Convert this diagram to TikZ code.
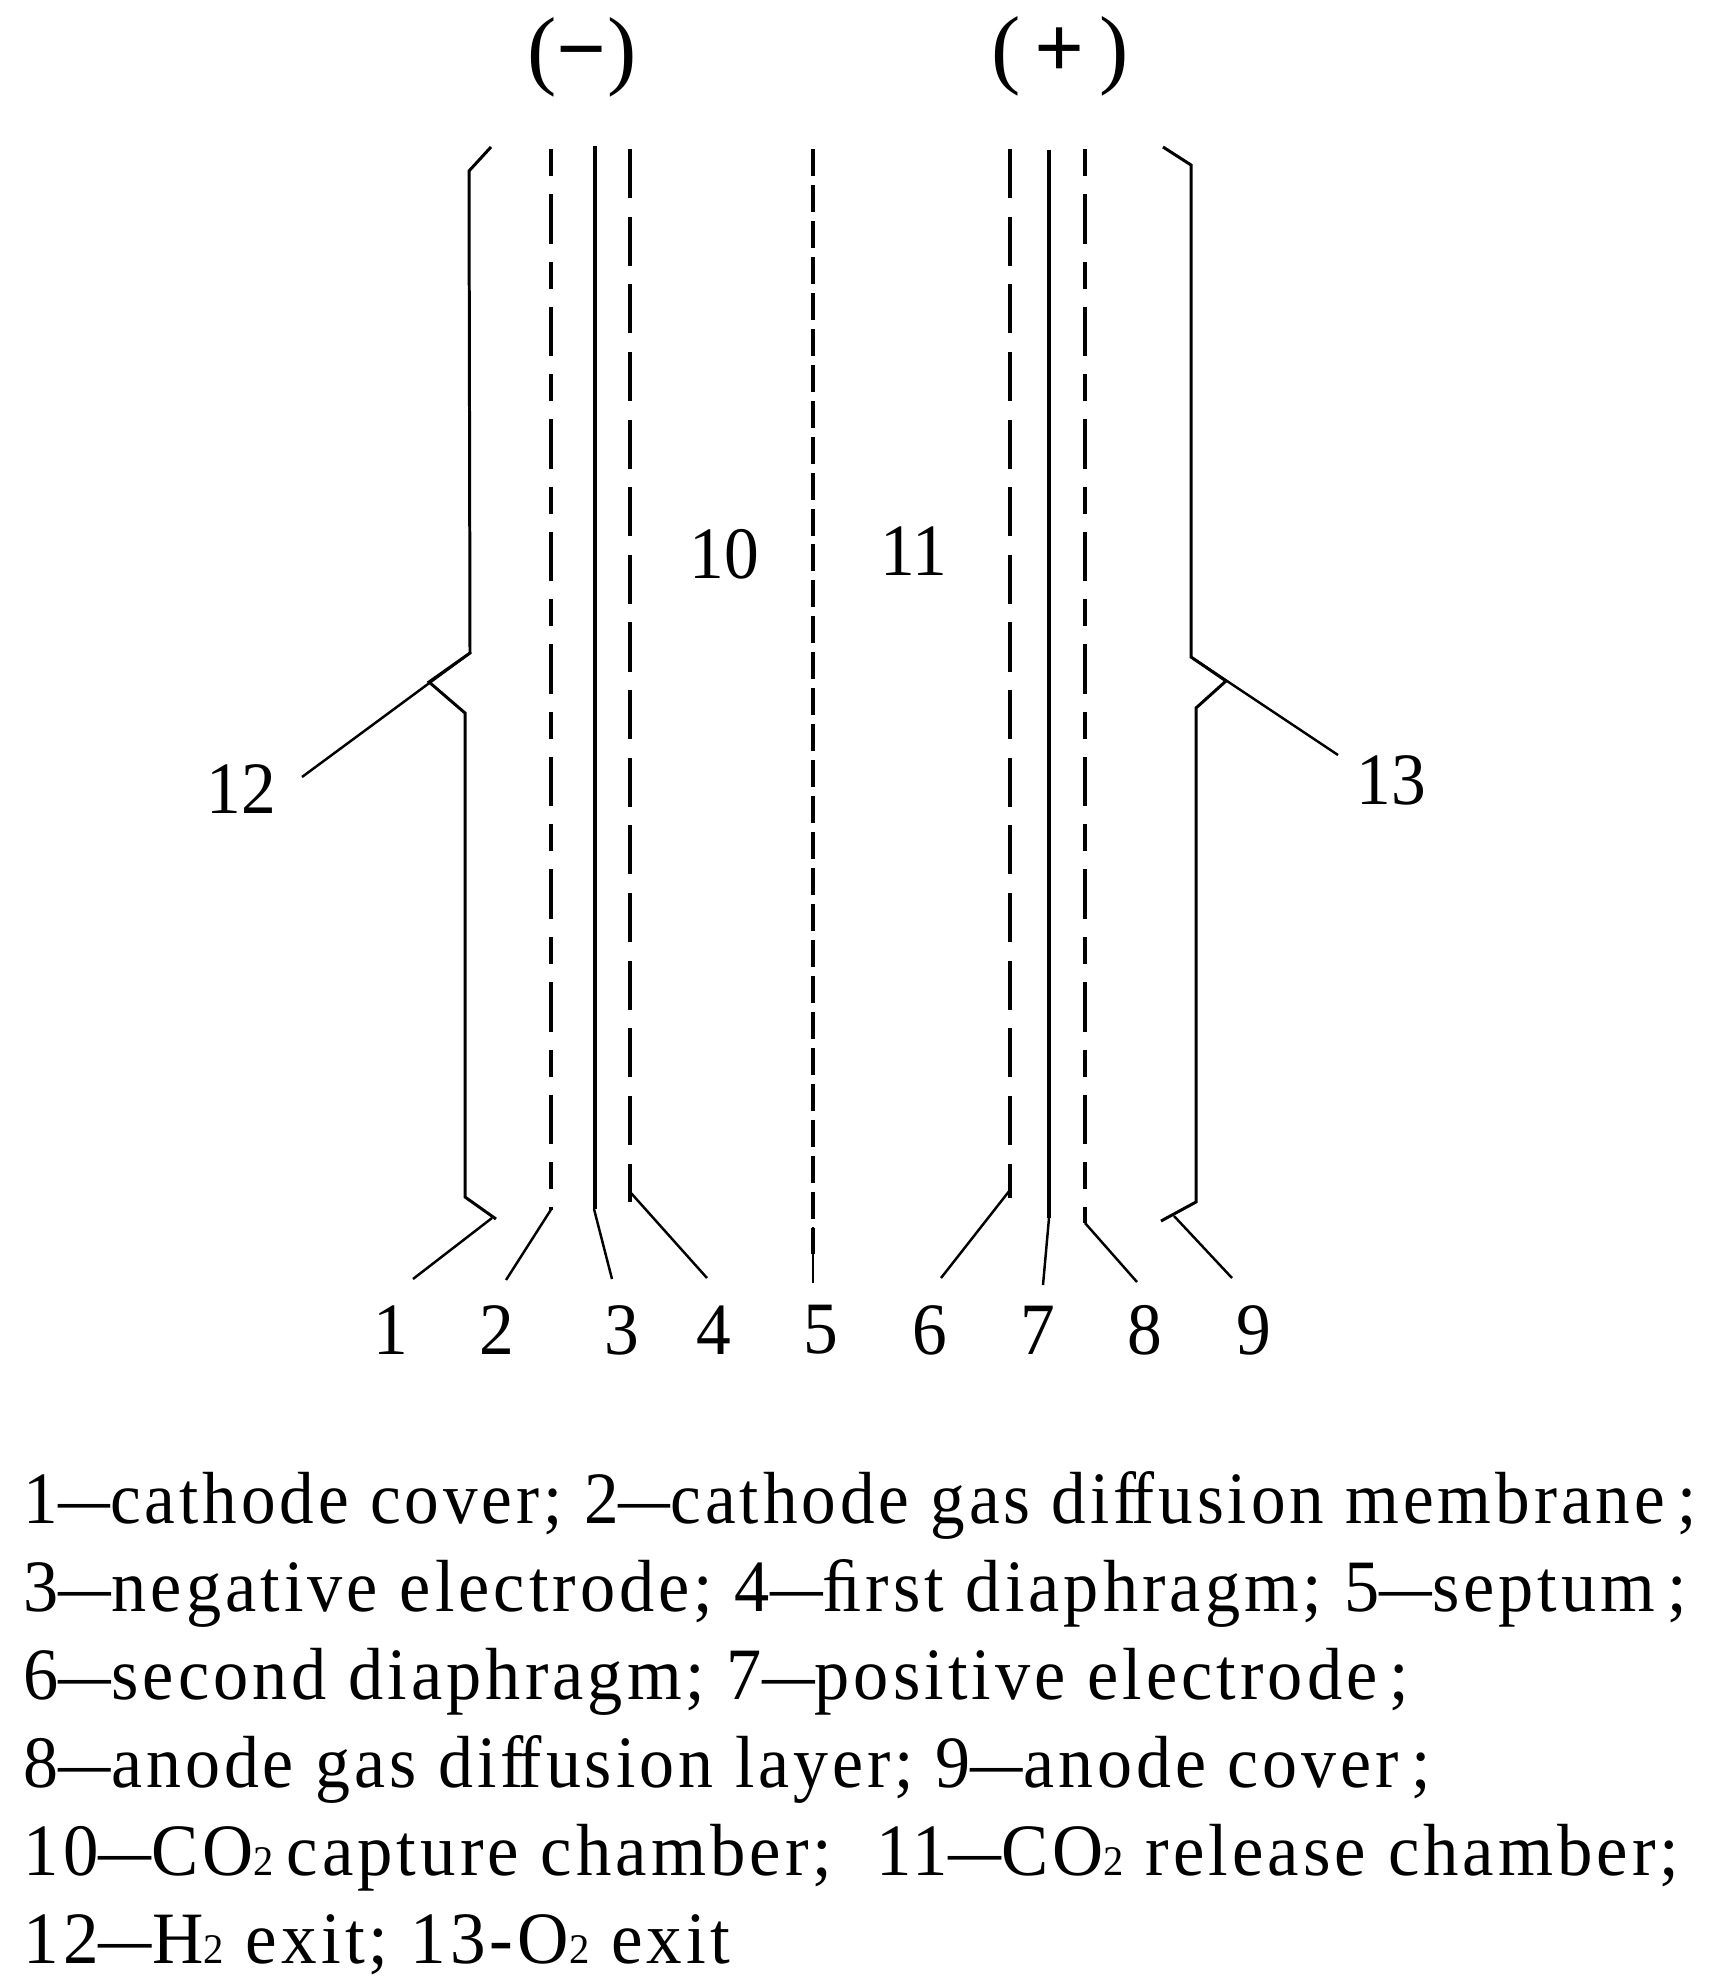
\documentclass[tikz,border=0pt]{standalone}
\usepackage{fontspec}
\setmainfont{Liberation Serif}
\usetikzlibrary{calc}
\newfontfamily\labfont[FakeStretch=0.94]{Liberation Serif}
\newfontfamily\keyfont[FakeStretch=0.94,LetterSpace=5.4]{Liberation Serif}
\newcommand{\lowtwo}{{\fontsize{12}{12}\selectfont 2}}
\newcommand{\kdash}{\scalebox{0.75}[1]{—}}
\newcommand{\tightff}{f\kern-0.07em f}
\tikzset{
    wall/.style={line width=0.85pt, line join=miter},
    plate/.style={line width=1.1pt},
    lead/.style={line width=0.7pt},
    dashlong/.style={line width=1.1pt, dash pattern=on 0.49cm off 0.186cm},
    dashmix/.style={line width=1.1pt, dash pattern=on 0.27cm off 0.18cm on 0.495cm off 0.18cm},
    dashsep/.style={line width=1.1pt, dash pattern=on 0.27cm off 0.0893cm},
    lab/.style={font=\labfont\fontsize{21}{21}\selectfont, inner sep=0pt},
    sign/.style={font=\fontsize{25}{25}\selectfont, inner sep=0pt},
    keyline/.style={font=\keyfont\fontsize{21}{21}\selectfont, anchor=base west, inner sep=0pt}
}
\begin{document}
\begin{tikzpicture}[x=0.01cm, y=-0.01cm]
\useasboundingbox (0,0) rectangle (1731,1982);
% polarity
\node[sign] (minus) at (582,57) {(\textbf{\textminus})};
\node[sign] (plus) at (1060,56) {(\,\textbf{+}\,)};
% cover on the cathode side
\draw[wall] (491,147) -- (469,171) -- (470,653) -- (429,682) -- (465,713) -- (465,1197) -- (496,1219);
% cover on the anode side
\draw[wall] (1163,147) -- (1191,165) -- (1191,657) -- (1226,681) -- (1196,708) -- (1196,1202) -- (1161,1221);
% layers
\draw[dashmix] (551,149) -- (551,1210);
\draw[plate] (595,146) -- (595,1209);
\draw[dashlong] (630,149) -- (630,1202);
\draw[dashsep] (813,149) -- (813,1254);
\draw[dashlong] (1010,149) -- (1010,1198);
\draw[plate] (1049,150) -- (1049,1218);
\draw[dashmix] (1085,149) -- (1085,1223);
% leaders
\foreach \i/\xa/\ya/\xb/\yb in {
    1/492/1218/413/1279, 2/552/1208/506/1280, 3/594/1209/612/1279,
    4/631/1193/707/1278, 5/813/1227/813/1283, 6/1010/1190/941/1278,
    7/1049/1218/1043/1285, 8/1085/1223/1137/1282, 9/1174/1216/1232/1278,
    12/470/653/302/777, 13/1191/657/1338/755} {
    \coordinate (top\i) at (\xa,\ya);
    \coordinate (end\i) at (\xb,\yb);
    \draw[lead] (top\i) -- (end\i);
}
% labels
\foreach \i/\x in {1/391,2/497,3/622,4/714,5/821,6/930,7/1038,8/1145,9/1254} {
    \node[lab] (num\i) at (\x,1330) {\i};
}
\node[lab] (num10) at (724,554) {10};
\node[lab] (num11) at (914,551) {11};
\node[lab] (num12) at (241,789) {12};
\node[lab] (num13) at (1391,780) {13};
% key
\node[keyline] (key1) at (23,1523) {\scalebox{0.996}[1]{1\kdash cathode cover; 2\kdash cathode gas di\tightff usion membrane\,;}};
\node[keyline] (key2) at (23,1611) {\scalebox{1.013}[1]{3\kdash negative electrode; 4\kdash ﬁrst diaphragm; 5\kdash septum\,;}};
\node[keyline] (key3) at (23,1699) {\scalebox{1.013}[1]{6\kdash second diaphragm; 7\kdash positive electrode\,;}};
\node[keyline] (key4) at (23,1787) {\scalebox{1.007}[1]{8\kdash anode gas di\tightff usion layer; 9\kdash anode cover\,;}};
\node[keyline] (key5) at (23,1875) {\scalebox{1.019}[1]{10\kdash CO\lowtwo\,capture chamber;\ \ 11\kdash CO\lowtwo{} release chamber;}};
\node[keyline] (key6) at (23,1963) {\scalebox{1.025}[1]{12\kdash H\lowtwo{} exit; 13-O\lowtwo{} exit}};
\end{tikzpicture}
\end{document}
